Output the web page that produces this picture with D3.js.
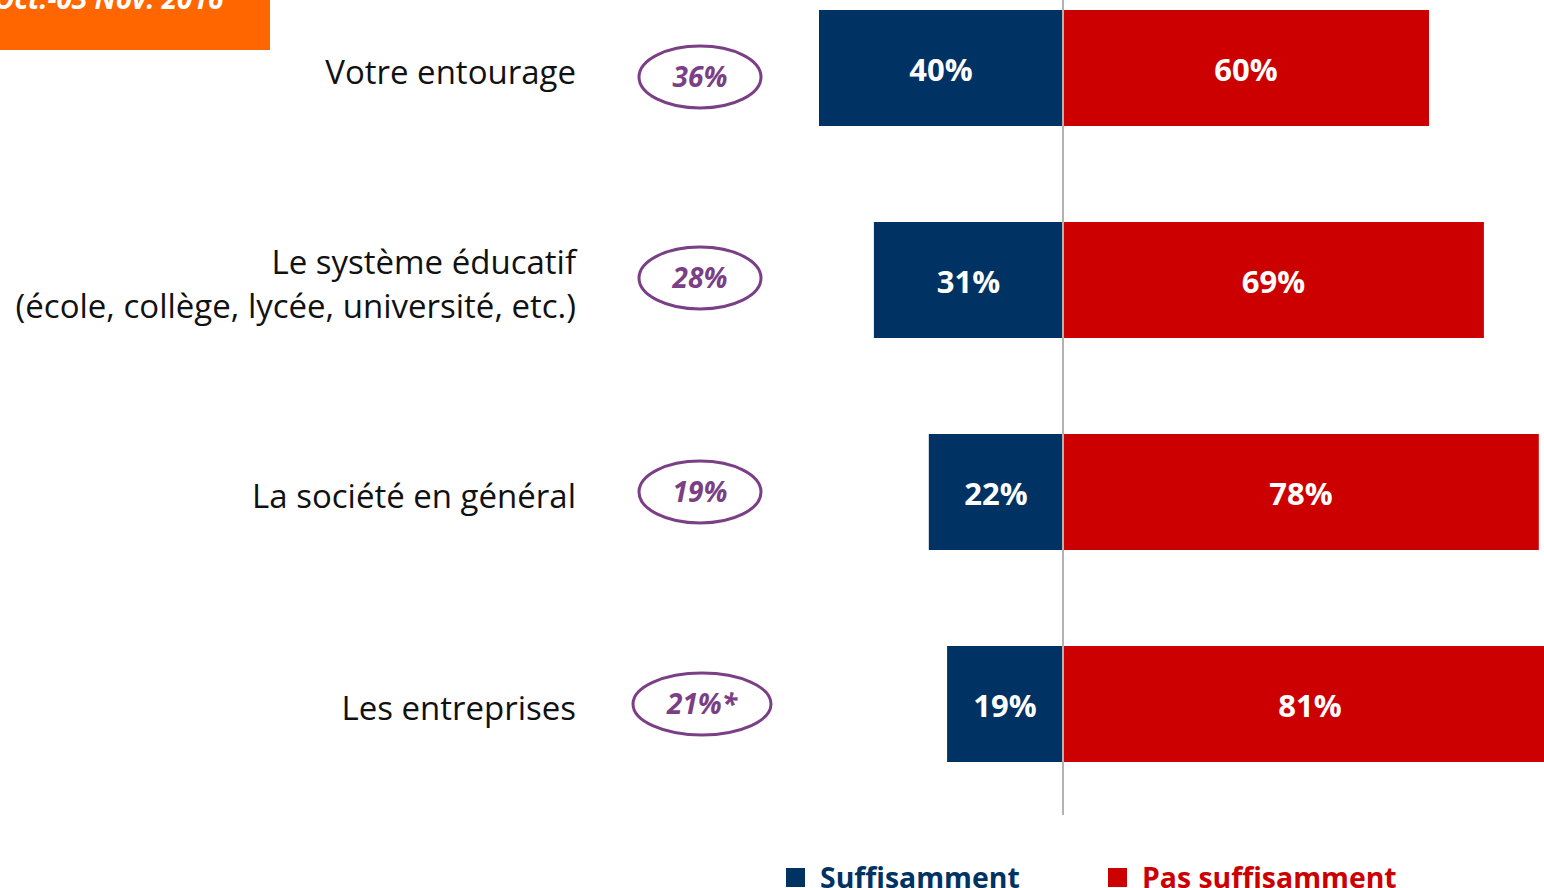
<!DOCTYPE html>
<html>
<head>
<meta charset="utf-8">
<script src="https://cdn.jsdelivr.net/npm/d3@7/dist/d3.min.js"></script>
<style>
  html, body { margin: 0; padding: 0; background: #fff; overflow: hidden; }
  svg { display: block; font-family: "Open Sans", "Noto Sans", sans-serif; }
</style>
</head>
<body>
<svg id="chart" width="1544" height="888"></svg>
<script>
// Data
const categories = ['Votre entourage', 'Le système éducatif', 'La société en général', 'Les entreprises'];
const categoryLines = [
  ['Votre entourage'],
  ['Le système éducatif', '(école, collège, lycée, université, etc.)'],
  ['La société en général'],
  ['Les entreprises']
];
const suffisamment = [40, 31, 22, 19];
const pasSuffisamment = [60, 69, 78, 81];
const previousWave = ['36%', '28%', '19%', '21%*'];
const seriesNames = ['Suffisamment', 'Pas suffisamment'];
const bandLabel = 'Oct.-03 Nov. 2016';

const NAVY = '#003263';
const RED = '#cc0000';
const PURPLE = '#7b3f86';
const ORANGE = '#ff6600';

const svg = d3.select('#chart');

const zero = 1063;
const x = d3.scaleLinear().domain([-100, 100]).range([zero - 610, zero + 610]);
const y = d3.scaleBand().domain(categories).range([10, 762]).paddingInner(96 / 212).paddingOuter(0);

// orange date tag, clipped at the top like the source slide
svg.append('rect').attr('x', 0).attr('y', -10).attr('width', 270).attr('height', 60).attr('fill', ORANGE);
svg.append('text')
  .attr('x', -6).attr('y', 9)
  .attr('fill', '#fff')
  .attr('font-weight', 700).attr('font-style', 'italic')
  .attr('font-size', 28)
  .text(bandLabel);

const rows = svg.append('g').selectAll('g')
  .data(categories.map((c, i) => ({ c, i, s: suffisamment[i], p: pasSuffisamment[i], prev: previousWave[i], lines: categoryLines[i] })))
  .join('g');

// blue (left) bars
rows.append('rect')
  .attr('x', (d) => x(-d.s))
  .attr('y', (d) => y(d.c))
  .attr('width', (d) => x(0) - x(-d.s) - 1)
  .attr('height', y.bandwidth())
  .attr('fill', NAVY);

// red (right) bars
rows.append('rect')
  .attr('x', x(0) + 1)
  .attr('y', (d) => y(d.c))
  .attr('width', (d) => x(d.p) - x(0) - 1)
  .attr('height', y.bandwidth())
  .attr('fill', RED);

rows.append('text')
  .attr('x', (d) => (x(-d.s) + x(0)) / 2)
  .attr('y', (d) => y(d.c) + y.bandwidth() / 2 + 2)
  .attr('dy', '0.36em')
  .attr('text-anchor', 'middle')
  .attr('fill', '#fff').attr('font-weight', 700).attr('font-size', 31)
  .text((d) => d.s + '%');

rows.append('text')
  .attr('x', (d) => (x(0) + x(d.p)) / 2)
  .attr('y', (d) => y(d.c) + y.bandwidth() / 2 + 2)
  .attr('dy', '0.36em')
  .attr('text-anchor', 'middle')
  .attr('fill', '#fff').attr('font-weight', 700).attr('font-size', 31)
  .text((d) => d.p + '%');

// category labels, right aligned
rows.each(function (d) {
  const g = d3.select(this);
  const cy = y(d.c) + y.bandwidth() / 2 + 4;
  const lh = 44;
  const top = cy - (d.lines.length - 1) * lh / 2;
  d.lines.forEach((line, k) => {
    g.append('text')
      .attr('x', 576)
      .attr('y', top + k * lh)
      .attr('dy', '0.35em')
      .attr('text-anchor', 'end')
      .attr('fill', '#111')
      .attr('font-size', 33)
      .text(line);
  });
});

// previous-wave ovals (the slide nudges them a little per row)
const ovalNudge = [9, -2, 0, 0];
rows.each(function (d) {
  const g = d3.select(this);
  const cy = y(d.c) + y.bandwidth() / 2 + ovalNudge[d.i];
  const wide = d.prev.length > 3;
  g.append('ellipse')
    .attr('cx', wide ? 702 : 700).attr('cy', cy)
    .attr('rx', wide ? 69 : 61).attr('ry', 31)
    .attr('fill', 'none').attr('stroke', PURPLE).attr('stroke-width', 3);
  g.append('text')
    .attr('x', wide ? 702 : 700).attr('y', cy)
    .attr('dy', '0.36em')
    .attr('text-anchor', 'middle')
    .attr('fill', PURPLE).attr('font-weight', 700).attr('font-style', 'italic').attr('font-size', 28)
    .text(d.prev);
});

// zero line
svg.append('line')
  .attr('x1', x(0)).attr('x2', x(0))
  .attr('y1', 0).attr('y2', 815)
  .attr('stroke', '#808080').attr('stroke-width', 1.2);

// legend (cut by the bottom edge, as in the source)
const legend = svg.append('g').selectAll('g')
  .data(seriesNames.map((n, i) => ({ n, color: i === 0 ? NAVY : RED, x: i === 0 ? 786 : 1108 })))
  .join('g');
legend.append('rect')
  .attr('x', (d) => d.x).attr('y', 868)
  .attr('width', 19).attr('height', 19)
  .attr('fill', (d) => d.color);
legend.append('text')
  .attr('x', (d) => d.x + 34).attr('y', 888)
  .attr('fill', (d) => d.color)
  .attr('font-weight', 700).attr('font-size', 28.4)
  .text((d) => d.n);
</script>
</body>
</html>
